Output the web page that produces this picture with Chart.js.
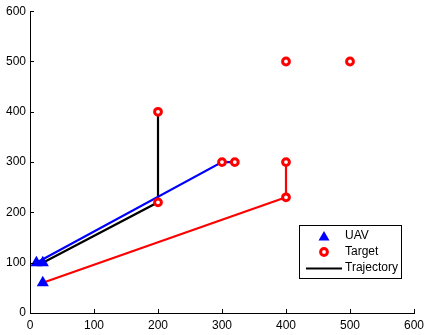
<!DOCTYPE html>
<html>
<head>
<meta charset="utf-8">
<script src="https://cdn.jsdelivr.net/npm/chart.js@4"></script>
<style>
  html, body { margin: 0; padding: 0; background: #fff; }
  #wrap { width: 424px; height: 335px; }
</style>
</head>
<body>
<div id="wrap"><canvas id="chart" width="424" height="335"></canvas></div>
<script>
// data
const uavX = [10, 20, 20];
const uavY = [100, 100, 60];
const targetX = [200, 200, 300, 320, 400, 400, 400, 500];
const targetY = [400, 220, 300, 300, 300, 230, 500, 500];
const blueX = [10, 300, 320];
const blueY = [100, 300, 300];
const blackX = [20, 200, 200];
const blackY = [100, 220, 400];
const redX = [20, 400, 400];
const redY = [60, 230, 300];
const xTicks = [0, 100, 200, 300, 400, 500, 600];
const yTicks = [0, 100, 200, 300, 400, 500, 600];
const legendLabels = ['UAV', 'Target', 'Trajectory'];

const pts = (xs, ys) => xs.map((x, i) => ({x: x, y: ys[i]}));
const FONT = 'Liberation Sans, Arial, Helvetica, sans-serif';

function pathSet(xs, ys, color) {
  return {
    data: pts(xs, ys), showLine: true, borderColor: color, borderWidth: 2.2,
    pointRadius: 0, fill: false, tension: 0, order: 3
  };
}

// MATLAB-style inward ticks + legend box inside the axes
const matlabBits = {
  id: 'matlabBits',
  afterDraw(chart) {
    const c = chart.ctx, xs = chart.scales.x, ys = chart.scales.y, a = chart.chartArea;
    c.save();
    c.strokeStyle = '#000';
    c.lineWidth = 1;
    c.beginPath();
    xTicks.forEach(v => {
      const px = Math.round(xs.getPixelForValue(v)) + 0.5;
      c.moveTo(px, a.bottom); c.lineTo(px, a.bottom - 4);
    });
    yTicks.forEach(v => {
      const py = Math.round(ys.getPixelForValue(v)) + 0.5;
      c.moveTo(a.left, py); c.lineTo(a.left + 4, py);
    });
    c.stroke();

    // legend
    const bx = 299.5, by = 225.5, bw = 102, bh = 53;
    c.fillStyle = '#fff';
    c.fillRect(bx, by, bw, bh);
    c.strokeStyle = '#000';
    c.lineWidth = 1;
    c.strokeRect(bx, by, bw, bh);

    // triangle
    c.fillStyle = '#0000ff';
    c.beginPath();
    c.moveTo(324, 231); c.lineTo(329.5, 240.5); c.lineTo(318.5, 240.5); c.closePath();
    c.fill();
    // circle
    c.beginPath();
    c.arc(324, 252, 3.4, 0, Math.PI * 2);
    c.strokeStyle = '#ff0000'; c.lineWidth = 3; c.stroke();
    // line
    c.beginPath();
    c.moveTo(306, 268.5); c.lineTo(342, 268.5);
    c.strokeStyle = '#000'; c.lineWidth = 2.2; c.stroke();

    c.fillStyle = '#000';
    c.font = '12px ' + FONT;
    c.textBaseline = 'middle';
    c.textAlign = 'left';
    c.fillText(legendLabels[0], 345, 236);
    c.fillText(legendLabels[1], 345, 252);
    c.fillText(legendLabels[2], 345, 268);
    c.restore();
  }
};

new Chart(document.getElementById('chart'), {
  type: 'scatter',
  data: {
    datasets: [
      {
        data: pts(uavX, uavY), pointStyle: 'triangle', pointRadius: 7,
        backgroundColor: '#0000ff', borderColor: '#0000ff', borderWidth: 0, order: 1
      },
      {
        data: pts(targetX, targetY), pointStyle: 'circle', pointRadius: 3.4,
        backgroundColor: '#ffffff', borderColor: '#ff0000', borderWidth: 3, order: 2
      },
      pathSet(blueX, blueY, '#0000ff'),
      pathSet(blackX, blackY, '#000000'),
      pathSet(redX, redY, '#ff0000')
    ]
  },
  options: {
    responsive: false,
    animation: false,
    layout: { padding: { top: 11, right: 10, left: 0, bottom: 0 } },
    plugins: { legend: { display: false }, tooltip: { enabled: false } },
    scales: {
      x: {
        type: 'linear', min: 0, max: 600,
        afterFit: s => { s.height = 22; s.paddingRight = 0; },
        afterBuildTicks: s => { s.ticks = xTicks.map(v => ({value: v})); },
        grid: { display: true, drawOnChartArea: false, drawTicks: false },
        border: { display: true, color: '#000', width: 1 },
        ticks: { color: '#000', padding: 5, maxRotation: 0, font: { family: FONT, size: 12 } }
      },
      y: {
        type: 'linear', min: 0, max: 600,
        afterFit: s => { s.width = 30; },
        afterBuildTicks: s => { s.ticks = yTicks.map(v => ({value: v})); },
        grid: { display: true, drawOnChartArea: false, drawTicks: false },
        border: { display: true, color: '#000', width: 1 },
        ticks: { color: '#000', padding: 4, font: { family: FONT, size: 12 } }
      }
    }
  },
  plugins: [matlabBits]
});
</script>
</body>
</html>
